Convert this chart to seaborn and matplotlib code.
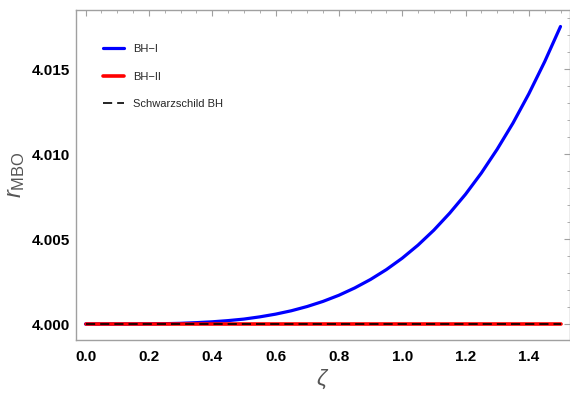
import numpy as np
import pandas as pd
import matplotlib
matplotlib.use("Agg")
import matplotlib.pyplot as plt
import seaborn as sns
from matplotlib.ticker import MultipleLocator, FormatStrFormatter

# data
zeta = [0.00, 0.05, 0.10, 0.15, 0.20, 0.25, 0.30, 0.35, 0.40, 0.45, 0.50,
        0.55, 0.60, 0.65, 0.70, 0.75, 0.80, 0.85, 0.90, 0.95, 1.00,
        1.05, 1.10, 1.15, 1.20, 1.25, 1.30, 1.35, 1.40, 1.45, 1.50]
r_bh1 = [4.00000, 4.00000, 4.00000, 4.000003, 4.00001, 4.00002, 4.00004, 4.00008,
         4.00013, 4.00020, 4.00029, 4.00042, 4.00058, 4.00078, 4.00103, 4.00133,
         4.00169, 4.00212, 4.00262, 4.00320, 4.00387, 4.00464, 4.00552, 4.00652,
         4.00763, 4.00888, 4.01028, 4.01182, 4.01354, 4.01543, 4.01750]
r_bh2 = [4.0] * len(zeta)
r_schw = [4.0] * len(zeta)

labels = ["BH\u2212I", "BH\u2212II", "Schwarzschild BH"]

sns.set_style("white")
plt.rcParams['font.family'] = ['Liberation Sans', 'DejaVu Sans']
plt.rcParams['mathtext.fontset'] = 'custom'
plt.rcParams['mathtext.it'] = 'Liberation Sans:italic'
plt.rcParams['mathtext.rm'] = 'Liberation Sans'

fig = plt.figure(figsize=(5.70, 3.95), dpi=100)
ax = fig.add_axes([76/570, 1-340/395, (570-76)/570, (340-9.5)/395])

df1 = pd.DataFrame({"zeta": zeta, "r": r_bh1})
df2 = pd.DataFrame({"zeta": zeta, "r": r_bh2})
df3 = pd.DataFrame({"zeta": zeta, "r": r_schw})
sns.lineplot(data=df1, x="zeta", y="r", ax=ax, color="#0000ff", lw=2.3, label=labels[0], zorder=3)
sns.lineplot(data=df2, x="zeta", y="r", ax=ax, color="#ff0000", lw=2.6, label=labels[1], zorder=4)
sns.lineplot(data=df3, x="zeta", y="r", ax=ax, color="black", lw=1.2, label=labels[2],
             zorder=5, linestyle=(0, (5.5, 3)))

ax.set_xlim(-0.03, 1.53)
ax.set_ylim(3.99906, 4.01850)
ax.xaxis.set_major_locator(MultipleLocator(0.2))
ax.xaxis.set_minor_locator(MultipleLocator(0.05))
ax.yaxis.set_major_locator(MultipleLocator(0.005))
ax.yaxis.set_minor_locator(MultipleLocator(0.001))
ax.xaxis.set_major_formatter(FormatStrFormatter('%.1f'))
ax.yaxis.set_major_formatter(FormatStrFormatter('%.3f'))

framecol = "#a0a0a0"
for s in ax.spines.values():
    s.set_color(framecol)
    s.set_linewidth(1.0)
ax.tick_params(which='both', direction='in', top=True, right=True, colors=framecol,
               labelcolor='black')
ax.tick_params(which='major', length=4, width=0.8)
ax.tick_params(which='minor', length=2, width=0.6)
for lab in ax.get_xticklabels() + ax.get_yticklabels():
    lab.set_fontweight('bold')
    lab.set_fontsize(11)
ax.tick_params(axis='x', pad=7)
ax.tick_params(axis='y', pad=4)

ax.set_xlabel(r"$\zeta$", fontsize=16, color="#555555", labelpad=3)
ax.set_ylabel(r"$r_{\mathrm{MBO}}$", fontsize=17, color="#555555", labelpad=4)

leg = ax.legend(loc='upper left', bbox_to_anchor=(0.035, 0.925), frameon=False,
                fontsize=8, handlelength=1.9, labelspacing=1.55, handletextpad=0.75)

fig.savefig("out.png", dpi=100)
